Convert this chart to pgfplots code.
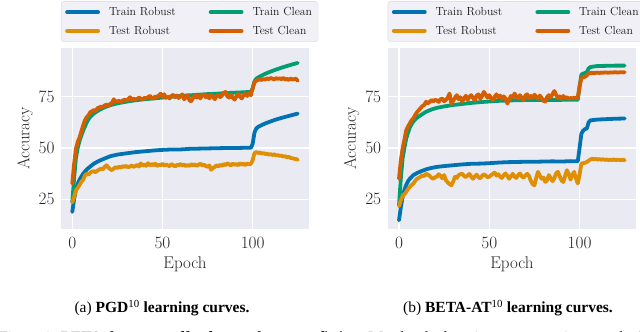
\documentclass[border=0pt]{standalone}
\usepackage{fontspec}
\usepackage{pgfplots}
\pgfplotsset{compat=1.18}
\newfontfamily\timesfont{Liberation Serif}
\definecolor{cbblue}{HTML}{0173B2}
\definecolor{cborange}{HTML}{DE8F05}
\definecolor{cbgreen}{HTML}{029E73}
\definecolor{cbred}{HTML}{D55E00}
\definecolor{sbbg}{HTML}{EAEAF2}

\pgfplotsset{
 sbstyle/.style={
   scale only axis, width=248pt, height=181pt,
   xmin=-6.25, xmax=131.25, ymin=10.5, ymax=98.8,
   xtick={0,50,100}, ytick={25,50,75},
   axis background/.style={fill=sbbg},
   grid=major, major grid style={white, line width=1.1pt},
   axis line style={draw=none}, tick style={draw=none},
   tick label style={font=\fontsize{16.5}{18}\selectfont, text=black!85},
   xticklabel style={anchor=base, yshift=-20pt},
   yticklabel style={anchor=east, xshift=-3pt},
   xlabel={Epoch}, ylabel={Accuracy},
   every axis x label/.style={at={(axis description cs:0.5,-0.193)}, anchor=center, font=\fontsize{17}{20}\selectfont, text=black!85},
   every axis y label/.style={at={(axis description cs:-0.145,0.5)}, anchor=center, rotate=90, font=\fontsize{17}{20}\selectfont, text=black!85},
   legend columns=2,
   legend cell align=left,
   legend image code/.code={\draw[line width=3.8pt] (0pt,0pt) -- (31pt,0pt);},
   legend style={at={(axis description cs:0,1)}, anchor=south west, yshift=6pt,
     fill=sbbg!70!white, draw=black!15, rounded corners=3pt,
     font=\fontsize{11.7}{14}\selectfont, text=black!90,
     /tikz/every odd column/.append style={column sep=7pt},
     /tikz/every even column/.append style={column sep=31pt},
     row sep=5pt, inner xsep=4pt, inner ysep=4pt},
   every axis plot/.append style={line width=3.8pt, line join=round, line cap=round, mark=none},
 }
}

\begin{document}
\begin{tikzpicture}
\path[use as bounding box] (0,0) rectangle (640pt,332pt);
% ---------------- (a) PGD ----------------
\begin{axis}[sbstyle, at={(61pt,103pt)}, anchor=south west]
\addplot[cbblue] coordinates {(0,18.8)(1,25)(2,29.5)(3,32.5)(4,34.5)(5,36)(6,37.4)(8,39.5)(10,41)(12,42.4)(15,43.8)(18,44.9)(21,46)(25,46.8)(30,47.4)(35,48)(40,48.4)(45,48.8)(50,49.1)(55,49.3)(60,49.3)(65,49.6)(70,49.7)(75,49.8)(80,49.9)(85,50)(90,50)(95,50.1)(99,50.1)(100,52)(101,57.5)(102,59.5)(103,60.3)(105,61.2)(107,62)(110,63)(113,63.9)(116,64.7)(119,65.4)(122,66.1)(125,66.8)};
\addlegendentry{Train Robust}
\addplot[cbgreen] coordinates {(0,23.5)(1,35)(2,45)(3,50)(4,53.5)(5,56)(6,58.5)(7,60.5)(8,62.5)(9,64)(10,65.2)(12,66.9)(15,68.6)(18,69.9)(21,70.9)(25,71.8)(30,72.6)(35,73.3)(40,73.8)(45,74.2)(50,74.6)(55,75)(60,75.4)(65,75.7)(70,76)(75,76.3)(80,76.5)(85,76.8)(90,77)(95,77.2)(99,77.4)(100,79)(101,82.5)(102,83.8)(104,84.9)(106,85.8)(108,86.6)(110,87.3)(113,88.3)(116,89.2)(119,90)(122,90.8)(125,91.5)};
\addlegendentry{Train Clean}
\addplot[cborange] coordinates {(0,23.4)(1,26)(2,29.4)(3,30.5)(4,32)(5,33.5)(6,34.5)(7,36.5)(8,37.5)(9,37)(10,38)(11,38.5)(12,38.7)(13,38.2)(14,39)(15,39.5)(16,40)(17,39.6)(18,40.8)(19,41.6)(20,40.5)(21,39.7)(22,39.2)(23,40)(24,40.6)(25,40.3)(26,40.9)(27,40.4)(28,41.2)(29,40.8)(30,41.3)(31,40.6)(32,41)(33,41.5)(34,40.8)(35,41.2)(36,41.8)(37,41)(38,42.5)(39,41.4)(40,42)(41,41.3)(42,42.6)(43,41.5)(44,42.2)(45,41.6)(46,42.4)(47,41.2)(48,41.8)(49,41.6)(50,42.3)(51,41.4)(52,42)(53,41.5)(54,41.1)(55,42.2)(56,41.6)(57,41)(58,41.8)(59,41.6)(60,42.2)(61,41.5)(62,41.9)(63,41.2)(64,41.7)(65,41.3)(66,42.1)(67,41.6)(68,42)(69,41.3)(70,41.8)(71,42.4)(72,41.5)(73,41.9)(74,41.2)(75,40.8)(76,41.5)(77,39.4)(78,40.2)(79,40.8)(80,41.6)(81,41)(82,41.8)(83,41.3)(84,42.2)(85,41.6)(86,42.6)(87,42)(88,41.5)(89,42.4)(90,41.8)(91,42.2)(92,41.6)(93,42.6)(94,41.9)(95,42.3)(96,41.7)(97,42.5)(98,42)(99,42.3)(100,44)(101,47.5)(102,48)(103,47.6)(104,47.8)(105,47.3)(106,47.5)(107,47.1)(108,47.2)(109,46.8)(110,47)(111,46.6)(112,46.9)(113,46.4)(114,46.5)(115,46.2)(116,46.3)(117,45.8)(118,46)(119,45.5)(120,45.7)(121,45.2)(122,45)(123,44.8)(124,44.6)(125,44.3)};
\addlegendentry{Test Robust}
\addplot[cbred] coordinates {(0,32.7)(1,42)(2,49.5)(3,53)(4,55)(5,58)(6,61)(7,63.5)(8,65)(9,66)(10,67.5)(11,68)(12,68.5)(13,68)(14,69.5)(15,69.8)(16,70.2)(17,70)(18,70.8)(19,71.2)(20,70.5)(21,71.5)(22,72)(23,73.8)(24,72.5)(25,72.8)(26,73)(27,72.4)(28,73.2)(29,73.6)(30,73)(31,73.8)(32,74.8)(33,73.5)(34,74.2)(35,73.6)(36,74)(37,74.6)(38,74.1)(39,73.8)(40,74.5)(41,74.2)(42,74.8)(43,75.5)(44,74.6)(45,74)(46,75.2)(47,74.8)(48,75.6)(49,76.5)(50,75)(51,76.2)(52,74.5)(53,75)(54,74.2)(55,75.4)(56,76)(57,74.8)(58,75.6)(59,74.4)(60,75.2)(61,76.2)(62,73.8)(63,74.6)(64,75.8)(65,73.2)(66,72.8)(67,74.5)(68,75.8)(69,74.6)(70,75.5)(71,74.2)(72,75.8)(73,76.2)(74,74.8)(75,75.5)(76,74.2)(77,76)(78,75)(79,73.8)(80,75.4)(81,76)(82,74.8)(83,75.6)(84,76.8)(85,77.4)(86,75.2)(87,74.6)(88,76)(89,74.5)(90,73.6)(91,75.2)(92,76.4)(93,75)(94,74.2)(95,75.8)(96,76.5)(97,75.4)(98,76.6)(99,75.8)(100,79)(101,82)(102,82.8)(103,83.2)(104,83.5)(105,83.2)(106,83.6)(107,83.4)(108,84)(109,83.6)(110,84.2)(111,83.8)(112,83.5)(113,84.1)(114,83.7)(115,84)(116,83.6)(117,84.2)(118,83.4)(119,83.8)(120,83.2)(121,83.9)(122,83.4)(123,83.6)(124,83.8)(125,82.8)};
\addlegendentry{Test Clean}
\end{axis}
% ---------------- (b) BETA-AT ----------------
\begin{axis}[sbstyle, at={(387.7pt,103pt)}, anchor=south west, width=248.3pt]
\addplot[cbblue] coordinates {(0,14.7)(1,21)(2,26)(3,29.5)(4,32)(5,33.8)(6,35)(8,36.8)(10,37.8)(12,38.6)(15,39.6)(18,40.3)(21,40.8)(25,41.2)(30,41.6)(35,42)(40,42.3)(45,42.4)(50,42.6)(55,42.9)(60,43.1)(65,43.2)(70,43.3)(75,43.3)(80,43.4)(85,43.5)(90,43.4)(95,43.6)(99,43.5)(100,50)(101,57)(102,58.5)(103,59.2)(104,59.5)(105,62.5)(106,63.5)(108,63.7)(110,63.9)(115,64.1)(120,64.3)(125,64.4)};
\addlegendentry{Train Robust}
\addplot[cbgreen] coordinates {(0,22)(1,35)(2,44.9)(3,50)(4,54.6)(5,57.5)(6,60)(7,61.7)(8,63)(10,64.8)(12,66)(15,67.7)(18,68.8)(21,69.6)(25,70.3)(30,71)(35,71.5)(40,72)(45,72.4)(50,72.7)(55,73)(60,73.2)(65,73.3)(70,73.4)(75,73.4)(80,73.5)(85,73.5)(90,73.5)(95,73.6)(99,73.5)(100,80)(101,85.8)(102,86.3)(103,86.6)(104,87)(105,88.8)(106,89.5)(108,89.8)(110,90)(115,90.1)(120,90.2)(125,90.2)};
\addlegendentry{Train Clean}
\addplot[cborange] coordinates {(0,21.6)(1,24.5)(2,26.5)(3,27.5)(4,28.6)(5,30)(6,31)(7,32)(8,32.7)(9,34)(10,35)(11,35.5)(12,36)(13,36.8)(14,36.2)(15,37.5)(16,37)(17,36.4)(18,35.5)(19,35)(20,35.8)(21,36)(22,37.2)(23,36.5)(24,35.2)(25,36.8)(26,34.3)(27,33.2)(28,32.4)(29,31.8)(30,33.5)(31,36)(32,35.4)(33,36.8)(34,37.2)(35,37.5)(36,36.4)(37,35.8)(38,36.6)(39,37.4)(40,36)(41,35)(42,36.2)(43,37)(44,35.8)(45,35.2)(46,36.4)(47,37.2)(48,36.6)(49,35.8)(50,36)(51,36.8)(52,37.4)(53,38)(54,36.5)(55,37.2)(56,36)(57,35.4)(58,36.8)(59,37.6)(60,36.4)(61,35)(62,36.2)(63,37.4)(64,36)(65,35.4)(66,36.8)(67,37.6)(68,36.2)(69,35.6)(70,36.6)(71,37.4)(72,36.4)(73,34)(74,32.4)(75,31.8)(76,35.5)(77,38.4)(78,36.6)(79,35)(80,35.6)(81,33.5)(82,34.2)(83,36.8)(84,35.4)(85,33.8)(86,35.2)(87,37.6)(88,38.4)(89,36.2)(90,34.2)(91,33.4)(92,36.4)(93,39.2)(94,37.4)(95,34.6)(96,36.8)(97,38.4)(98,35.2)(99,32.7)(100,37)(101,42.4)(102,42.6)(103,42.8)(104,43.2)(105,43.8)(106,44.4)(107,44.8)(108,44.5)(109,44.7)(110,44.4)(111,44.6)(112,44.3)(113,44.5)(114,44.2)(115,44.4)(116,44.1)(117,44.3)(118,44.2)(119,44.4)(120,44.1)(121,44.3)(122,44.2)(123,44.1)(124,44.3)(125,44)};
\addlegendentry{Test Robust}
\addplot[cbred] coordinates {(0,35)(1,44)(2,49.8)(3,54)(4,58.7)(5,60.5)(6,62)(7,63.6)(8,64.5)(9,66.2)(10,67.5)(11,68.5)(12,69.5)(13,70.5)(14,71)(15,72.6)(16,71.8)(17,72.5)(18,73.4)(19,72.8)(20,73.5)(21,73.2)(22,72.5)(23,73.8)(24,74.2)(25,72.8)(26,73.5)(27,74.6)(28,76.6)(29,71.7)(30,73)(31,74.5)(32,75.8)(33,73.8)(34,74.8)(35,72.6)(36,74.2)(37,75.5)(38,73.4)(39,75)(40,75.8)(41,74.4)(42,73.2)(43,75.6)(44,76.2)(45,74)(46,75.4)(47,77.4)(48,76)(49,74.6)(50,75.8)(51,74.2)(52,73.4)(53,75)(54,76.2)(55,74.6)(56,75.6)(57,74)(58,75.2)(59,74.2)(60,71.7)(61,73.6)(62,75.4)(63,74.6)(64,76.6)(65,75)(66,74.2)(67,75.8)(68,74.4)(69,73.4)(70,75.6)(71,76.2)(72,74.2)(73,75.4)(74,74.4)(75,76)(76,75)(77,74)(78,75.6)(79,74.4)(80,73)(81,72.6)(82,74.8)(83,75.8)(84,74.6)(85,76.2)(86,77.8)(87,76)(88,74.4)(89,75.2)(90,74)(91,75.4)(92,74.2)(93,74.8)(94,74)(95,74.4)(96,74.2)(97,74.6)(98,74.3)(99,74.5)(100,80)(101,84.2)(102,84.4)(103,84.8)(104,85.4)(105,86.4)(106,86.6)(107,86.7)(108,86.5)(109,86.7)(110,86.8)(111,86.6)(112,86.8)(113,86.7)(114,86.9)(115,86.8)(116,86.7)(117,86.9)(118,86.8)(119,86.9)(120,87)(121,86.8)(122,86.9)(123,87)(124,86.9)(125,87)};
\addlegendentry{Test Clean}
\end{axis}
% captions
\node[font=\timesfont\fontsize{15.5}{18}\selectfont, anchor=base] at (162pt,19pt) {(a) \textbf{PGD\textsuperscript{\mdseries 10} learning curves.}};
\node[font=\timesfont\fontsize{15.5}{18}\selectfont, anchor=base] at (508pt,19pt) {(b) \textbf{BETA-AT\textsuperscript{\mdseries 10} learning curves.}};
\node[font=\timesfont\fontsize{15.5}{18}\selectfont, anchor=base west, inner sep=0pt] at (-1pt,-10pt) {Figure 1: \textbf{BETA does not suffer from robust overfitting.} We plot the learning curves against epochs for PGD and BETA.};
\end{tikzpicture}
\end{document}
